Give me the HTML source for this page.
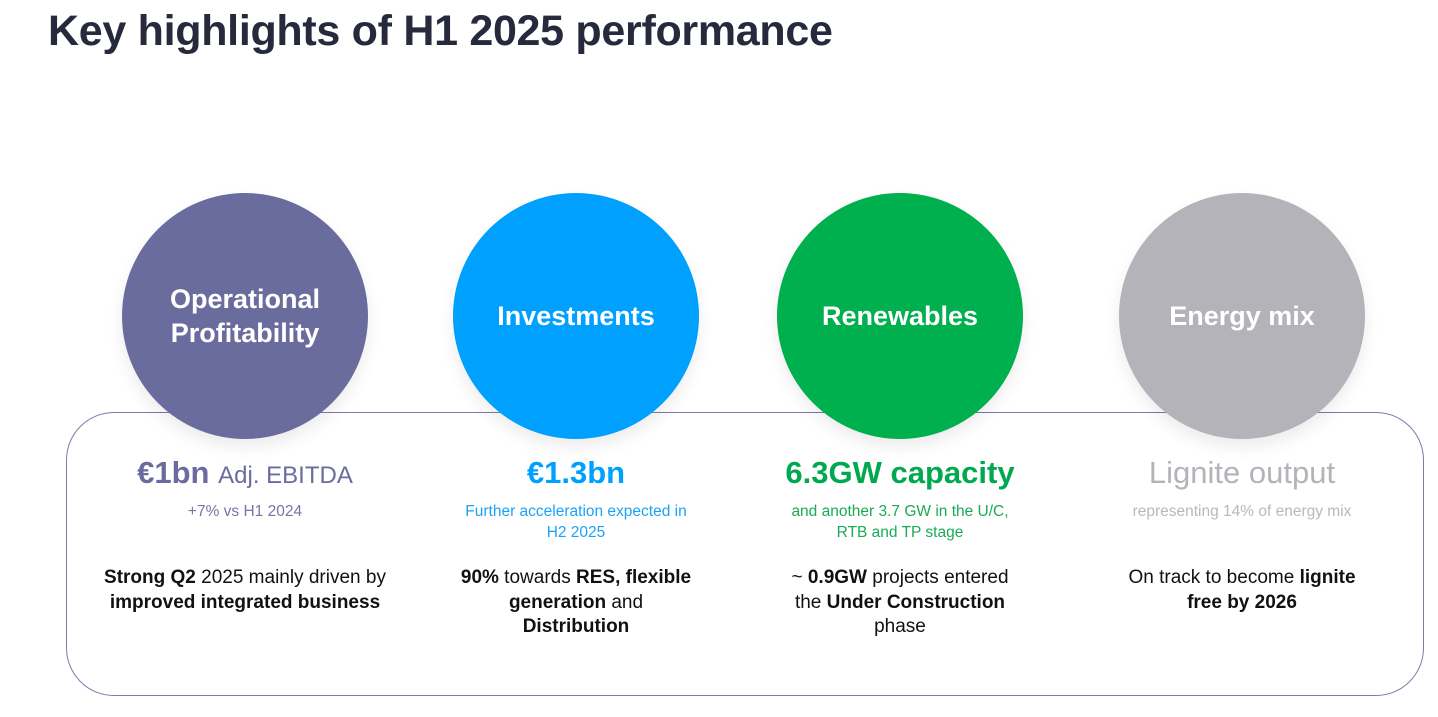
<!DOCTYPE html>
<html><head><meta charset="utf-8"><style>
body{margin:0;width:1438px;height:717px;background:#fff;font-family:"Liberation Sans",sans-serif;position:relative;overflow:hidden}
h1{position:absolute;left:48px;top:7px;margin:0;font-size:43px;font-weight:bold;color:#262a3c;letter-spacing:-0.3px}
.box{position:absolute;left:66px;top:412px;width:1356px;height:282px;border:1.5px solid #7d7ba8;border-radius:48px}
.c{position:absolute;top:193px;width:246px;height:246px;border-radius:50%;display:flex;align-items:center;justify-content:center;text-align:center;color:#fff;font-weight:bold;font-size:27px;line-height:34px;box-shadow:0 8px 16px rgba(0,0,0,0.08)}
.col{position:absolute;width:340px;text-align:center}
.h{position:absolute;top:455px;font-size:31px;white-space:nowrap}
.s{position:absolute;top:501px;font-size:15.5px;line-height:21px;white-space:nowrap}
.b{position:absolute;top:566px;font-size:19px;line-height:24.5px;color:#111;white-space:nowrap}
b{font-weight:bold}
</style></head><body>
<h1>Key highlights of H1 2025 performance</h1>
<div class="box"></div>
<div class="c" style="left:122px;background:#6b6c9e">Operational<br>Profitability</div>
<div class="c" style="left:453px;background:#00a0ff">Investments</div>
<div class="c" style="left:777px;background:#00b04e">Renewables</div>
<div class="c" style="left:1119px;background:#b3b3b9">Energy mix</div>

<div class="col h" style="left:75px;color:#6b6c9e"><b>€1bn</b> <span style="font-size:24px">Adj. EBITDA</span></div>
<div class="col s" style="left:75px;color:#7476a6">+7% vs H1 2024</div>
<div class="col b" style="left:75px"><b>Strong Q2</b> 2025 mainly driven by<br><b>improved integrated business</b></div>

<div class="col h" style="left:406px;color:#00a0ff"><b>€1.3bn</b></div>
<div class="col s" style="left:406px;color:#1aa3f5">Further acceleration expected in<br>H2 2025</div>
<div class="col b" style="left:406px"><b>90%</b> towards <b>RES, flexible</b><br><b>generation</b> and<br><b>Distribution</b></div>

<div class="col h" style="left:730px;color:#00a850"><b>6.3GW capacity</b></div>
<div class="col s" style="left:730px;color:#1aab55">and another 3.7 GW in the U/C,<br>RTB and TP stage</div>
<div class="col b" style="left:730px">~ <b>0.9GW</b> projects entered<br>the <b>Under Construction</b><br>phase</div>

<div class="col h" style="left:1072px;color:#b3b3b9">Lignite output</div>
<div class="col s" style="left:1072px;color:#b8b8be">representing 14% of energy mix</div>
<div class="col b" style="left:1072px">On track to become <b>lignite</b><br><b>free by 2026</b></div>
</body></html>
